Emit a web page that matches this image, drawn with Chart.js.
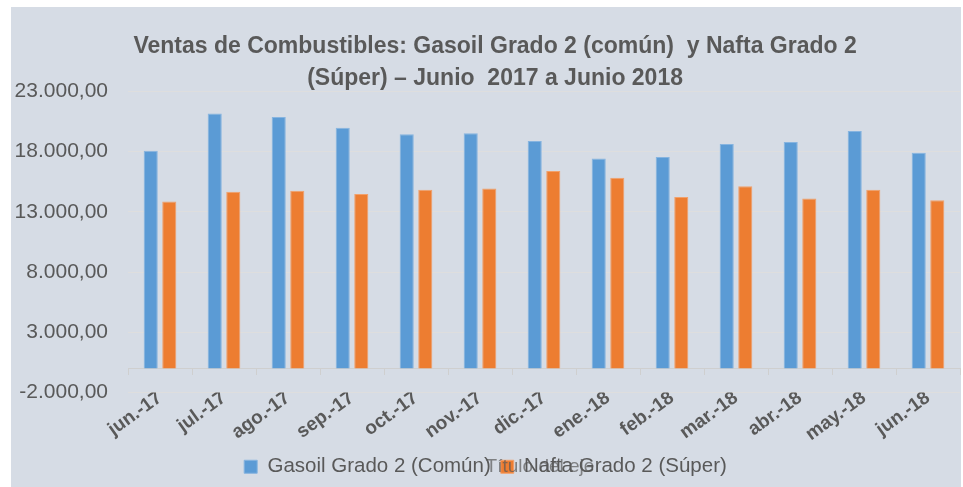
<!DOCTYPE html>
<html>
<head>
<meta charset="utf-8">
<script src="https://cdn.jsdelivr.net/npm/chart.js@4.4.1/dist/chart.umd.min.js"></script>
<style>
  body { margin: 0; background: #ffffff; }
  #box { position: absolute; left: 11px; top: 7px; width: 950px; height: 480px; background: #d6dce5; }
</style>
</head>
<body>
<div id="box"><canvas id="grafico"></canvas></div>
<script>
// Datos
const meses = ['jun.-17', 'jul.-17', 'ago.-17', 'sep.-17', 'oct.-17', 'nov.-17', 'dic.-17',
               'ene.-18', 'feb.-18', 'mar.-18', 'abr.-18', 'may.-18', 'jun.-18'];
const gasoil = [18070, 21150, 20870, 19980, 19430, 19510, 18880, 17430, 17550, 18630, 18790, 19710, 17910];
const nafta = [13860, 14670, 14750, 14480, 14830, 14940, 16390, 15830, 14230, 15110, 14110, 14830, 13950];
const ejeMin = -2000;
const ejeMax = 23000;
const paso = 5000;

const gris = '#595959';
const fuente = "'Liberation Sans', Arial, sans-serif";

// formato 23.000,00
function formato(v) {
    const neg = v < 0;
    let s = Math.abs(Math.round(v)).toString();
    s = s.replace(/\B(?=(\d{3})+(?!\d))/g, '.');
    return (neg ? '-' : '') + s + ',00';
}

// línea del eje en cero con marcas, y el título del eje encima de la leyenda
const extras = {
    id: 'extras',
    beforeDatasetsDraw(chart) {
        const ctx = chart.ctx;
        const x = chart.scales.x;
        const y0 = chart.scales.y.getPixelForValue(0);
        const ancho = (x.right - x.left) / meses.length;
        ctx.save();
        ctx.strokeStyle = '#cfcfcf';
        ctx.lineWidth = 1;
        ctx.beginPath();
        ctx.moveTo(x.left, Math.round(y0) + 0.5);
        ctx.lineTo(x.right, Math.round(y0) + 0.5);
        for (let i = 0; i <= meses.length; i++) {
            const px = Math.round(x.left + i * ancho) + 0.5;
            ctx.moveTo(px, Math.round(y0));
            ctx.lineTo(px, Math.round(y0) + 7);
        }
        ctx.stroke();
        ctx.restore();
    },
    afterDraw(chart) {
        const ctx = chart.ctx;
        const x = chart.scales.x;
        const ley = chart.legend;
        ctx.save();
        ctx.font = '19px ' + fuente;
        ctx.fillStyle = 'rgba(89,89,89,0.7)';
        ctx.textAlign = 'center';
        ctx.textBaseline = 'middle';
        ctx.fillText('Título del eje', (x.left + x.right) / 2 - 4, ley.top + ley.height / 2);
        ctx.restore();
    }
};

const ctx = document.getElementById('grafico').getContext('2d');
new Chart(ctx, {
    type: 'bar',
    data: {
        labels: meses,
        datasets: [{
            label: 'Gasoil Grado 2 (Común)',
            data: gasoil,
            backgroundColor: '#5b9bd5',
            borderColor: '#86b4e0',
            borderWidth: 1
        }, {
            label: 'Nafta Grado 2 (Súper)',
            data: nafta,
            backgroundColor: '#ed7d31',
            borderColor: '#f2a06a',
            borderWidth: 1
        }]
    },
    options: {
        responsive: true,
        maintainAspectRatio: false,
        animation: false,
        categoryPercentage: 0.58,
        barPercentage: 0.76,
        layout: { padding: { left: 0, right: 1, top: 0, bottom: 0 } },
        plugins: {
            title: {
                display: true,
                text: ['   Ventas de Combustibles: Gasoil Grado 2 (común)  y Nafta Grado 2',
                       '   (Súper) – Junio  2017 a Junio 2018'],
                color: gris,
                font: { family: fuente, size: 23, weight: 'bold', lineHeight: 1.42 },
                padding: { top: 23, bottom: -4 }
            },
            legend: {
                position: 'bottom',
                labels: {
                    color: gris,
                    font: { family: fuente, size: 20.5 },
                    boxWidth: 13,
                    boxHeight: 13,
                    padding: 10
                }
            },
            tooltip: { enabled: false }
        },
        scales: {
            x: {
                grid: { display: false },
                border: { display: false },
                ticks: {
                    color: gris,
                    font: { family: fuente, size: 19, weight: 'bold' },
                    minRotation: 36,
                    maxRotation: 36,
                    padding: -14
                },
                afterFit(scale) { scale.height = 54; }
            },
            y: {
                min: ejeMin,
                max: ejeMax,
                grid: { color: '#dedede', drawTicks: false },
                border: { display: false },
                ticks: {
                    stepSize: paso,
                    color: gris,
                    font: { family: fuente, size: 21 },
                    padding: 20,
                    callback: (v) => formato(v)
                },
                afterFit(scale) { scale.width = 117; }
            }
        }
    },
    plugins: [extras]
});
</script>
</body>
</html>
